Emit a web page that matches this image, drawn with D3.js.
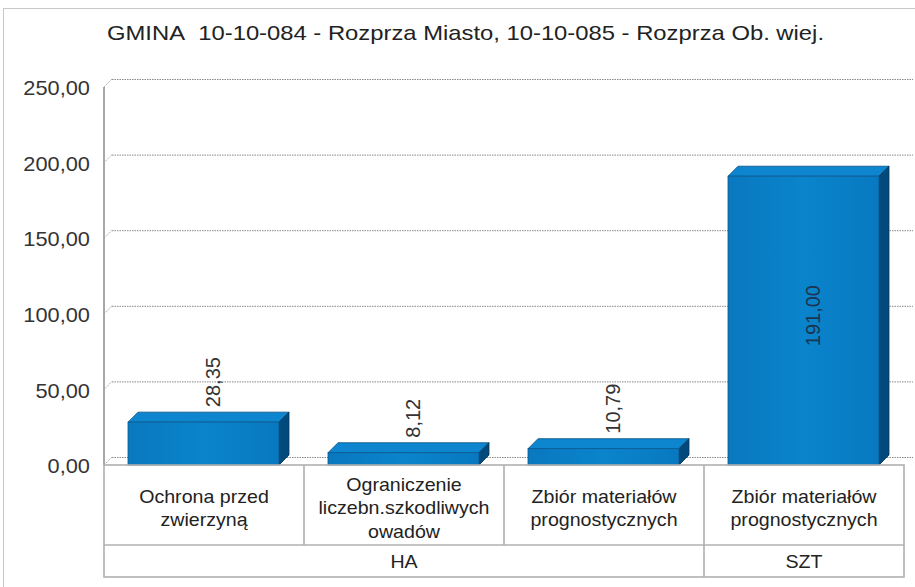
<!DOCTYPE html>
<html>
<head>
<meta charset="utf-8">
<script src="https://cdn.jsdelivr.net/npm/d3@7"></script>
<style>
  body { margin: 0; background: #fff; }
  svg { display: block; font-family: "Liberation Sans", Arial, sans-serif; }
</style>
</head>
<body>
<div id="container"></div>
<script>
// data
const categories = ["Ochrona przed zwierzyną", "Ograniczenie liczebn.szkodliwych owadów", "Zbiór materiałów prognostycznych", "Zbiór materiałów prognostycznych (SZT)"];
const categoryLines = [["Ochrona przed", "zwierzyną"], ["Ograniczenie", "liczebn.szkodliwych", "owadów"], ["Zbiór materiałów", "prognostycznych"], ["Zbiór materiałów", "prognostycznych"]];
const values = [28.35, 8.12, 10.79, 191.00];
const valueLabels = ["28,35", "8,12", "10,79", "191,00"];
const groups = ["HA", "SZT"];
const groupSpans = [3, 1];
const yTicks = [0, 50, 100, 150, 200, 250];
const title = "GMINA\u00a0\u00a010-10-084 - Rozprza Miasto, 10-10-085 - Rozprza Ob. wiej.";

const width = 915, height = 587;
const plot = { left: 104, right: 904, top: 87, bottom: 465 };
const wall = 8;   // back wall offset
const depth = 10; // bar depth
const stretch = 1.09; // text in the original looks a bit wide

const svg = d3.select("#container").append("svg")
  .attr("width", width)
  .attr("height", height);

const defs = svg.append("defs");
const grad = defs.append("linearGradient").attr("id", "front").attr("x1", 0).attr("x2", 1);
grad.append("stop").attr("offset", "0%").attr("stop-color", "#0978bf");
grad.append("stop").attr("offset", "50%").attr("stop-color", "#0a84cc");
grad.append("stop").attr("offset", "100%").attr("stop-color", "#0879c0");

// outer frame
svg.append("rect")
  .attr("x", 3.5).attr("y", 8.5)
  .attr("width", 920).attr("height", 600)
  .attr("fill", "none").attr("stroke", "#c8c8c8");

// title
svg.append("text")
  .attr("x", 107).attr("y", 40)
  .attr("textLength", 717)
  .attr("lengthAdjust", "spacingAndGlyphs")
  .attr("font-size", "21px")
  .attr("fill", "#222")
  .text(title);

const y = d3.scaleLinear().domain([0, 250]).range([plot.bottom, plot.top]);
const x = d3.scaleBand().domain(categories).range([plot.left, plot.right]);

// gridlines on back wall + little diagonals
const grid = svg.append("g");
yTicks.forEach(t => {
  grid.append("line")
    .attr("x1", plot.left + wall).attr("x2", 913)
    .attr("y1", y(t) - wall + 0.5).attr("y2", y(t) - wall + 0.5)
    .attr("stroke", "#888").attr("stroke-dasharray", "1.5,1");
  grid.append("line")
    .attr("x1", plot.left).attr("y1", y(t))
    .attr("x2", plot.left + wall).attr("y2", y(t) - wall)
    .attr("stroke", "#aaa").attr("stroke-dasharray", "1.5,1");
});

// y axis line
svg.append("line")
  .attr("x1", plot.left).attr("x2", plot.left)
  .attr("y1", y(250)).attr("y2", plot.bottom)
  .attr("stroke", "#a8a8a8").attr("stroke-width", 2);

// y tick labels
svg.append("g").selectAll("text")
  .data(yTicks)
  .join("text")
  .attr("transform", d => `translate(90,${y(d) + 1}) scale(${stretch},1)`)
  .attr("dy", "0.36em")
  .attr("text-anchor", "end")
  .attr("font-size", "20px")
  .attr("fill", "#333")
  .text(d => d3.format(".2f")(d).replace(".", ","));

// bars (3D look)
const barOff = x.bandwidth() * 0.12, barW = x.bandwidth() * 0.755;
const bars = svg.append("g").selectAll("g")
  .data(values)
  .join("g");

bars.append("path") // top face
  .attr("d", (d, i) => {
    const x0 = x(categories[i]) + barOff, yt = y(d);
    return `M${x0},${yt} L${x0 + depth},${yt - depth} L${x0 + barW + depth},${yt - depth} L${x0 + barW},${yt} Z`;
  })
  .attr("fill", "#0d86cf").attr("stroke", "#0a4f82").attr("stroke-width", 0.8);

bars.append("path") // side face
  .attr("d", (d, i) => {
    const x1 = x(categories[i]) + barOff + barW, yt = y(d);
    return `M${x1},${yt} L${x1 + depth},${yt - depth} L${x1 + depth},${plot.bottom - depth} L${x1},${plot.bottom} Z`;
  })
  .attr("fill", "#024a7b").attr("stroke", "#023658").attr("stroke-width", 0.8);

bars.append("rect") // front face
  .attr("x", (d, i) => x(categories[i]) + barOff)
  .attr("y", d => y(d))
  .attr("width", barW)
  .attr("height", d => plot.bottom - y(d))
  .attr("fill", "url(#front)").attr("stroke", "#0a5a92").attr("stroke-width", 0.8);

// value labels, rotated
bars.append("text")
  .attr("transform", (d, i) => {
    const cx = x(categories[i]) + barOff + barW / 2 + 9;
    const inside = d > 150;
    const cy = inside ? (y(d) + plot.bottom) / 2 - 5 : y(d) - depth - 5;
    return `translate(${cx},${cy}) rotate(-90)`;
  })
  .attr("text-anchor", d => d > 150 ? "middle" : "start")
  .attr("dominant-baseline", "central")
  .attr("font-size", "20px")
  .attr("fill", d => d > 150 ? "#1d3550" : "#333")
  .text((d, i) => valueLabels[i]);

// category table
const tableTop = plot.bottom, rowMid = 545, tableBottom = 577;
const table = svg.append("g").attr("stroke", "#b0b0b0").attr("stroke-width", 1.6).attr("fill", "none");
table.append("rect")
  .attr("x", plot.left).attr("y", tableTop)
  .attr("width", plot.right - plot.left).attr("height", tableBottom - tableTop);
table.append("line")
  .attr("x1", plot.left).attr("x2", plot.right)
  .attr("y1", rowMid).attr("y2", rowMid);
categories.slice(1).forEach(c => {
  table.append("line")
    .attr("x1", x(c)).attr("x2", x(c))
    .attr("y1", tableTop).attr("y2", rowMid);
});

// group dividers + labels
let start = 0;
groups.forEach((g, gi) => {
  const x0 = x(categories[start]);
  const x1 = x(categories[start + groupSpans[gi] - 1]) + x.bandwidth();
  if (gi > 0) {
    table.append("line").attr("x1", x0).attr("x2", x0).attr("y1", rowMid).attr("y2", tableBottom);
  }
  svg.append("text")
    .attr("transform", `translate(${(x0 + x1) / 2},${(rowMid + tableBottom) / 2 + 1}) scale(${stretch},1)`)
    .attr("dy", "0.36em")
    .attr("text-anchor", "middle")
    .attr("font-size", "18px")
    .attr("fill", "#222")
    .text(g);
  start += groupSpans[gi];
});

// category labels
categoryLines.forEach((lines, i) => {
  const cx = x(categories[i]) + x.bandwidth() / 2;
  const lh = 23.5;
  const y0 = 508 - (lines.length - 1) * lh / 2;
  const t = svg.append("text")
    .attr("transform", `translate(${cx},0) scale(${stretch},1)`)
    .attr("text-anchor", "middle")
    .attr("font-size", "18px")
    .attr("fill", "#222");
  lines.forEach((l, j) => {
    t.append("tspan").attr("x", 0).attr("y", y0 + j * lh).attr("dy", "0.36em").text(l);
  });
});
</script>
</body>
</html>
